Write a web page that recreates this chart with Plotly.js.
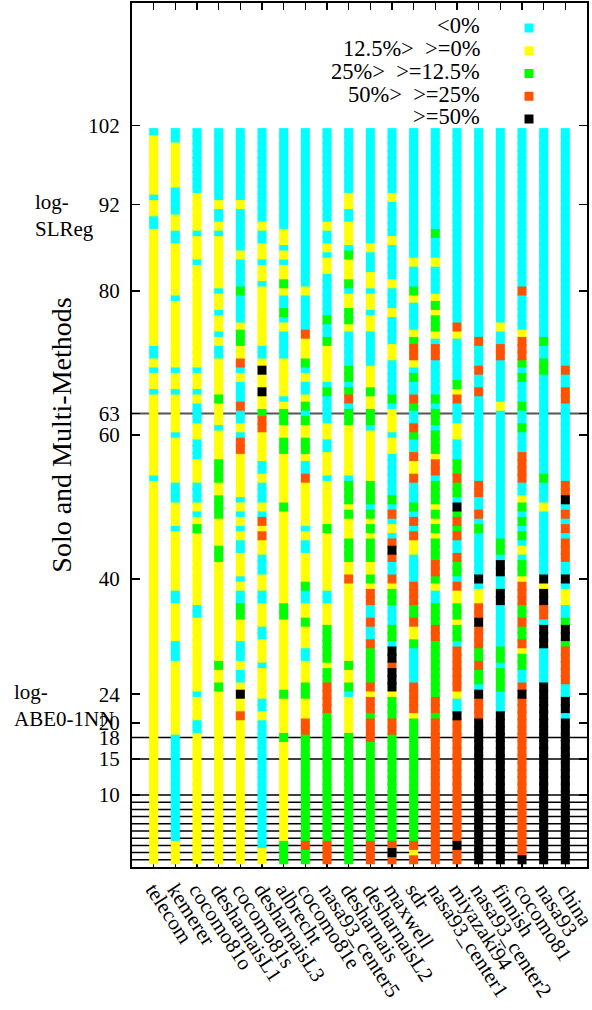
<!DOCTYPE html>
<html>
<head>
<meta charset="utf-8">
<script src="https://cdn.plot.ly/plotly-3.0.1.min.js"></script>
<style>html,body{margin:0;padding:0;background:#fff;}</style>
</head>
<body>
<div id="chart" style="width:592px;height:1010px;"></div>
<script>
// Datasets along the x axis, left to right
const datasets = ['telecom','kemerer','cocomo81o','desharnaisL1','cocomo81s','desharnaisL3',
  'albrecht','cocomo81e','nasa93_center5','desharnais','desharnaisL2','maxwell','sdr',
  'nasa93_center1','miyazaki94','nasa93_center2','finnish','cocomo81','nasa93','china'];

// Outcome band of each of the 102 methods per dataset, listed from rank 102 (top)
// down to rank 1, as run lengths: C <0%, Y 12.5%> >=0%, G 25%> >=12.5%, O 50%> >=25%, K >=50%
const rankRuns = [
  'C1 Y8 C1 Y2 C2 Y16 C2 Y1 C1 Y2 C1 Y11 C1 Y53',
  'C2 Y6 C4 Y2 C2 Y7 C1 Y9 C1 Y2 C1 Y5 C1 Y6 C3 Y3 C1 Y8 C2 Y5 C3 Y10 C15 Y3',
  'C9 Y5 C1 Y3 C1 Y14 C1 Y2 C1 Y1 C3 Y2 C3 Y3 C3 Y1 C1 Y1 G1 Y10 C2 Y10 C1 Y3 C2 Y18',
  'C10 Y1 C2 Y1 C1 Y7 C1 Y2 C1 Y2 C1 Y1 C2 Y5 G1 Y3 C1 Y4 G3 Y2 G3 Y4 G2 Y14 G1 Y2 G1 Y24',
  'C10 Y1 C6 Y1 C4 G1 C4 Y1 G2 Y2 O1 C1 Y1 C3 O1 C2 Y1 C1 O2 Y6 C1 Y1 C1 Y1 C1 Y1 C2 Y3 C1 Y1 C2 G2 Y3 C3 Y1 C2 Y1 K1 Y2 O1 Y20',
  'C13 Y1 C2 Y2 C1 Y2 C1 Y8 C2 Y1 K1 Y2 K1 Y2 G1 O2 Y4 C2 Y1 C3 Y1 C1 O1 Y1 O1 Y2 C3 Y2 C2 Y3 C2 Y3 C1 Y4 C2 Y1 C18 Y2',
  'C14 Y2 C1 Y1 C1 Y2 G1 Y1 C2 G1 C1 Y1 C4 Y5 C1 Y1 G2 Y2 G2 Y7 G1 Y13 G2 Y10 G1 Y5 G1 Y14 G3',
  'C22 Y1 C5 O1 Y3 G1 C1 Y1 C2 Y1 G1 C1 G1 Y2 G2 Y1 C2 O1 Y6 C1 Y1 C2 Y4 G1 C2 Y2 G1 Y3 C2 Y3 G2 Y3 O2 G15 O1 G2',
  'C13 Y1 C2 Y1 C1 Y2 C6 G1 C2 G1 Y5 C1 G1 C4 Y2 C2 Y3 C1 Y6 G1 Y8 C2 Y3 G5 Y1 G2 O4 G18 O3',
  'C9 Y2 C2 Y3 C1 G1 Y3 G1 C1 Y2 G2 Y1 C5 G2 C1 G1 O1 C1 G2 Y7 C1 G3 Y1 G1 Y3 G3 Y2 O1 Y11 G1 Y2 G1 C1 Y5 G18',
  'C16 Y1 C3 Y2 C1 Y2 C1 Y2 C5 Y3 G1 Y2 G2 C1 Y7 G3 C1 G1 Y1 G1 Y1 G3 Y2 G1 Y1 O2 C2 O1 C2 O1 G5 O1 Y1 O2 G1 O3 G14 O3',
  'C9 Y1 C5 Y1 C5 Y1 C3 Y1 C4 Y2 C5 G1 C1 Y3 C1 Y2 C6 G1 C1 O1 C1 Y1 C1 O1 K1 O1 C2 O1 Y1 G2 C3 G2 C1 K2 O1 K3 Y1 G3 O2 G15 O1 K1 O1',
  'C18 Y1 C3 G1 Y1 C4 Y1 G1 O2 Y1 C1 G1 C2 O1 G1 C2 O1 G1 C2 O1 Y2 O1 C3 G1 C1 O1 C1 O1 Y2 C4 O3 G2 O1 Y2 G1 C5 O4 Y1 G17 O1 Y1 O1',
  'C14 G1 C3 Y1 C4 Y1 G1 Y1 G2 Y1 C1 O2 C5 G1 C1 G2 C1 G3 Y1 O2 C1 G3 Y1 G1 Y1 G1 Y1 G3 O2 G1 Y1 C2 G3 O2 G8 O2 G1 O20',
  'C27 O1 Y1 C6 G1 Y1 O1 C3 Y2 C3 G2 O1 G2 C1 K1 G1 O1 G1 O1 C2 O1 G2 C1 O1 Y2 G2 Y1 G2 C1 O6 Y1 C2 K1 O17 K1 O2',
  'C29 O1 C3 O1 C2 O1 C12 O2 C2 O1 C1 G1 C6 K1 C1 Y2 O2 K1 O3 G2 O1 G2 C1 K1 O3 K20',
  'C27 Y1 C2 O2 C6 Y1 C18 G2 C1 K2 C2 K2 C6 G2 C1 G3 C3 K21',
  'C22 O1 C5 Y1 O3 G1 C1 G1 C3 G1 C2 G1 C3 O4 C2 Y1 G1 C1 G1 C1 G1 C1 Y1 C1 G2 Y1 O3 G2 O1 G2 O1 Y1 G2 C2 O1 K1 O22 K1',
  'C29 G1 C2 G2 C14 G1 C3 Y1 C9 K1 Y1 K2 O2 C1 K3 C5 K25',
  'C33 O1 C2 O2 C11 O2 K1 C1 O1 C1 O1 C1 O3 C2 K1 C1 Y2 C2 G1 K2 G1 O5 C2 K2 C1 K20'
];

// Outcome bands, in drawing order
const bandKeys   = ['C', 'Y', 'G', 'O', 'K'];
const bandLabels = ['<0%', '12.5%>  >=0%', '25%>  >=12.5%', '50%>  >=25%', '>=50%'];
const bandColors = ['#00ffff', '#ffff00', '#00ff00', '#ff5200', '#000000'];

const nMethods = 102;

// Y axis ticks and side labels
const yTickVals = [10, 15, 18, 20, 24, 40, 60, 63, 80, 92, 103];
const yTickText = ['10', '15', '18', '20', '24', '40', '60', '63', '80', '92', '102'];
const guideRanks = [1, 2, 3, 4, 5, 6, 7, 8, 9, 10, 15, 18];
const splitRank = 63;
const sideLabels = [
  {text: 'log-<br>SLReg', rank: 92, left: 33},
  {text: 'log-<br>ABE0-1NN', rank: 24, left: 12}
];

const FONT = 'Liberation Serif, Times New Roman, serif';

// Expand run lengths into one point list per band
const pts = bandKeys.map(() => ({x: [], y: []}));
rankRuns.forEach((runs, di) => {
  let rank = nMethods;
  runs.trim().split(/\s+/).forEach(tok => {
    const b = bandKeys.indexOf(tok[0]);
    const n = parseInt(tok.slice(1), 10);
    for (let k = 0; k < n; k++) {
      pts[b].x.push(di);
      pts[b].y.push(rank);
      rank--;
    }
  });
});

const traces = bandKeys.map((k, b) => ({
  type: 'scatter',
  mode: 'markers',
  name: bandLabels[b],
  x: pts[b].x,
  y: pts[b].y,
  marker: {symbol: 'square', size: 9, color: bandColors[b], line: {width: 0}},
  showlegend: false,
  hoverinfo: 'skip'
}));

const W = 592, H = 1010;
const M = {l: 132, r: 5, t: 3, b: 143};
const plotW = W - M.l - M.r, plotH = H - M.t - M.b;

const shapes = [];
guideRanks.forEach(r => shapes.push({
  type: 'line', xref: 'paper', x0: 0, x1: 1, yref: 'y', y0: r, y1: r,
  line: {color: '#000', width: 1.5}, layer: 'below'
}));
shapes.push({
  type: 'line', xref: 'paper', x0: 0, x1: 1, yref: 'y', y0: splitRank, y1: splitRank,
  line: {color: '#555', width: 2}, layer: 'below'
});

const annotations = [];
sideLabels.forEach(s => annotations.push({
  text: s.text, xref: 'paper', x: (s.left - M.l) / plotW, xanchor: 'left',
  yref: 'y', y: s.rank, yanchor: 'middle', yshift: -11, align: 'left',
  showarrow: false, font: {family: FONT, size: 21, color: '#000'}
}));

// Key: text right-aligned, swatch to its right
const keyTextX = (482 - M.l) / plotW;
const keySwatchX = (529 - M.l) / plotW;
bandLabels.forEach((lab, b) => {
  const py = 1 - (23 + 22.75 * b) / plotH;
  annotations.push({
    text: lab, xref: 'paper', x: keyTextX, xanchor: 'right',
    yref: 'paper', y: py, yanchor: 'middle', showarrow: false,
    font: {family: FONT, size: 22.5, color: '#000'}
  });
  shapes.push({
    type: 'rect', xref: 'paper', xsizemode: 'pixel', xanchor: keySwatchX, x0: -4.5, x1: 4.5,
    yref: 'paper', ysizemode: 'pixel', yanchor: py - 2 / plotH, y0: -4.5, y1: 4.5,
    fillcolor: bandColors[b], line: {width: 0}
  });
});

const layout = {
  width: W, height: H,
  margin: M,
  paper_bgcolor: '#fff', plot_bgcolor: '#fff',
  font: {family: FONT, size: 21, color: '#000'},
  showlegend: false,
  xaxis: {
    range: [-1, 20],
    tickmode: 'array',
    tickvals: datasets.map((d, i) => i),
    ticktext: datasets,
    tickangle: 57,
    ticks: 'inside', ticklen: 7, tickwidth: 1.5, tickcolor: '#000',
    showline: true, linecolor: '#000', linewidth: 2, mirror: 'ticks',
    showgrid: false, zeroline: false,
    layer: 'below traces',
    ticklabeloverflow: 'allow',
    tickfont: {family: FONT, size: 21, color: '#000'}
  },
  yaxis: {
    range: [0, 120],
    tickmode: 'array',
    tickvals: yTickVals,
    ticktext: yTickText,
    ticks: 'inside', ticklen: 8, tickwidth: 1.5, tickcolor: '#000',
    showline: true, linecolor: '#000', linewidth: 2, mirror: 'ticks',
    showgrid: false, zeroline: false,
    ticklabelstandoff: 6,
    tickfont: {family: FONT, size: 21, color: '#000'},
    title: {text: 'Solo and Multi-Methods', standoff: 8, font: {family: FONT, size: 28, color: '#000'}}
  },
  shapes: shapes,
  annotations: annotations
};

Plotly.newPlot('chart', traces, layout, {displayModeBar: false, staticPlot: true});
</script>
</body>
</html>
